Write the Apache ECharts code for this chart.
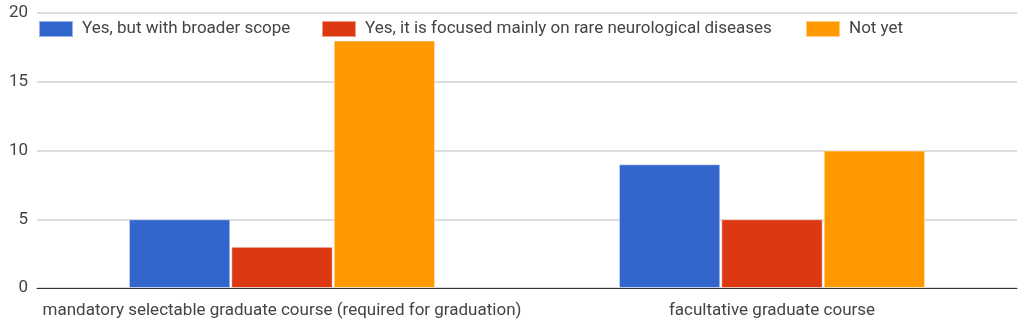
<!DOCTYPE html>
<html><head><meta charset="utf-8">
<script src="https://cdn.jsdelivr.net/npm/echarts@6/dist/echarts.min.js"></script>
<style>html,body{margin:0;padding:0;background:#fff}#c{width:1024px;height:325px}</style>
</head><body><div id="c"></div>
<script>
const categories = ['mandatory selectable graduate course (required for graduation)', 'facultative graduate course'];
const seriesNames = ['Yes, but with broader scope', 'Yes, it is focused mainly on rare neurological diseases', 'Not yet'];
const broaderScope = [5, 9];
const rareNeuro = [3, 5];
const notYet = [18, 10];
const yTicks = [0, 5, 10, 15, 20];
const colors = ['#3366cc', '#dc3912', '#ff9900'];
const values = [broaderScope, rareNeuro, notYet];
const font = 'Roboto, "Liberation Sans", Arial, sans-serif';
const legendLefts = [38, 321, 805];

const chart = echarts.init(document.getElementById('c'), null, {renderer: 'canvas'});
chart.setOption({
  animation: false,
  color: colors,
  textStyle: {fontFamily: font},
  legend: seriesNames.map((n, i) => ({
    data: [n], left: legendLefts[i], top: 20, padding: 0,
    itemWidth: 34, itemHeight: 16, icon: 'rect',
    textStyle: {fontSize: 17, color: '#444', fontFamily: font, padding: [0, 0, 0, 4]},
    selectedMode: false
  })),
  grid: {left: 37, right: 7, top: 13, bottom: 37},
  xAxis: {
    type: 'category', data: categories,
    axisTick: {show: false},
    axisLine: {lineStyle: {color: '#333', width: 1}},
    axisLabel: {fontSize: 17, color: '#444', margin: 14, interval: 0}
  },
  yAxis: {
    type: 'value', min: yTicks[0], max: yTicks[yTicks.length - 1], interval: 5,
    axisLine: {show: false}, axisTick: {show: false},
    axisLabel: {fontSize: 17, color: '#444', margin: 9},
    splitLine: {lineStyle: {color: '#ddd', width: 2}}
  },
  series: seriesNames.map((n, i) => ({
    name: n, type: 'bar', data: values[i],
    barGap: '1%', barCategoryGap: '37.5%',
    itemStyle: {color: colors[i], borderColor: 'rgba(255,255,255,0.5)', borderWidth: 1}
  }))
});
</script></body></html>
